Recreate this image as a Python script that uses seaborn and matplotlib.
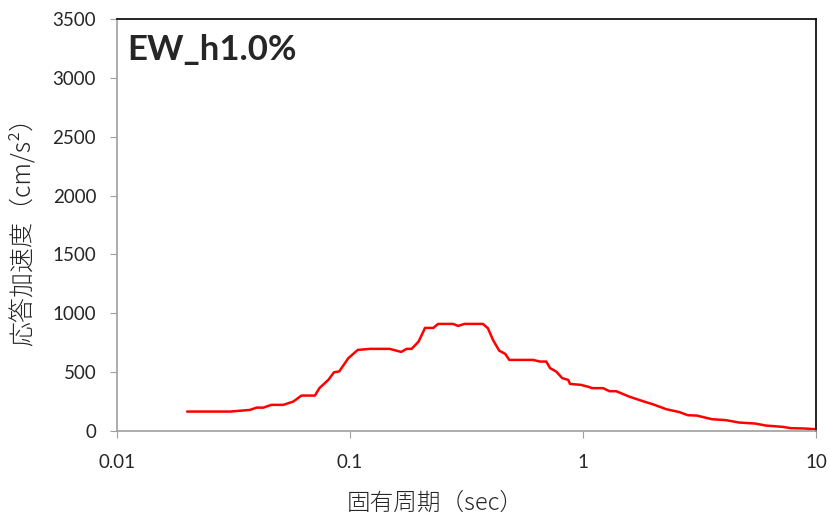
import matplotlib
matplotlib.use('Agg')
import matplotlib.pyplot as plt
import seaborn as sns
import pandas as pd

# 固有周期 (sec) and 応答加速度 (cm/s2)
period = [0.020, 0.0306, 0.0372, 0.0398, 0.0424, 0.046, 0.0517, 0.0571, 0.0619,
          0.0707, 0.0739, 0.0807, 0.0854, 0.0899, 0.0984, 0.108, 0.122, 0.148,
          0.166, 0.175, 0.184, 0.197, 0.21, 0.228, 0.239, 0.277, 0.291, 0.31,
          0.372, 0.391, 0.411, 0.437, 0.464, 0.483, 0.611, 0.654, 0.696, 0.723,
          0.768, 0.815, 0.865, 0.88, 0.98, 1.07, 1.09, 1.22, 1.30, 1.39, 1.58,
          1.83, 1.99, 2.28, 2.60, 2.82, 3.08, 3.58, 4.11, 4.67, 5.5, 6.1, 7.2,
          7.8, 8.9, 10.0]
accel = [164, 164, 178, 198, 197, 221, 221, 249, 300,
         300, 363, 433, 498, 505, 618, 688, 697, 697,
         671, 697, 697, 759, 875, 875, 909, 909, 892, 909,
         909, 872, 773, 682, 654, 603, 603, 589, 589, 533,
         504, 448, 433, 399, 391, 371, 363, 363, 337, 337, 291,
         249, 227, 184, 159, 133, 130, 99, 91, 71, 62, 45, 34,
         23, 20, 14]

title = 'EW_h1.0%'
x_ticks = [0.01, 0.1, 1, 10]
x_tick_labels = ['0.01', '0.1', '1', '10']
y_ticks = [0, 500, 1000, 1500, 2000, 2500, 3000, 3500]

df = pd.DataFrame({'period': period, 'accel': accel})

sns.set_style('white')
plt.rcParams['font.family'] = ['Noto Sans CJK JP', 'DejaVu Sans']

fig = plt.figure(figsize=(8.3, 5.16), dpi=100)
ax = fig.add_axes([0.141, 0.165, 0.842, 0.798])

sns.lineplot(data=df, x='period', y='accel', color='red', linewidth=1.8, ax=ax)

ax.set_xscale('log')
ax.set_xlim(0.01, 10)
ax.set_ylim(0, 3500)
ax.set_xticks(x_ticks)
ax.set_xticklabels(x_tick_labels)
ax.minorticks_off()
ax.set_yticks(y_ticks)
ax.tick_params(axis='both', labelsize=13.5, length=5, direction='out', color='#a0a0a0',
               pad=12, labelfontfamily='Lato')
ax.tick_params(axis='y', pad=10)
ax.tick_params(bottom=True, left=True)

for side in ['left', 'bottom']:
    ax.spines[side].set_color('#a0a0a0')
    ax.spines[side].set_linewidth(1.2)
for side in ['top', 'right']:
    ax.spines[side].set_color('black')
    ax.spines[side].set_linewidth(1.2)

ax.set_xlabel('固有周期（sec）', fontsize=17, fontweight='light', labelpad=14, x=0.455)
ax.set_ylabel('応答加速度（cm/s²）', fontsize=18, fontweight='light', labelpad=12)
ax.text(0.015, 0.965, title, transform=ax.transAxes, fontsize=25, fontweight='bold',
        family='Lato', va='top', ha='left')

fig.savefig('out.png', dpi=100)
